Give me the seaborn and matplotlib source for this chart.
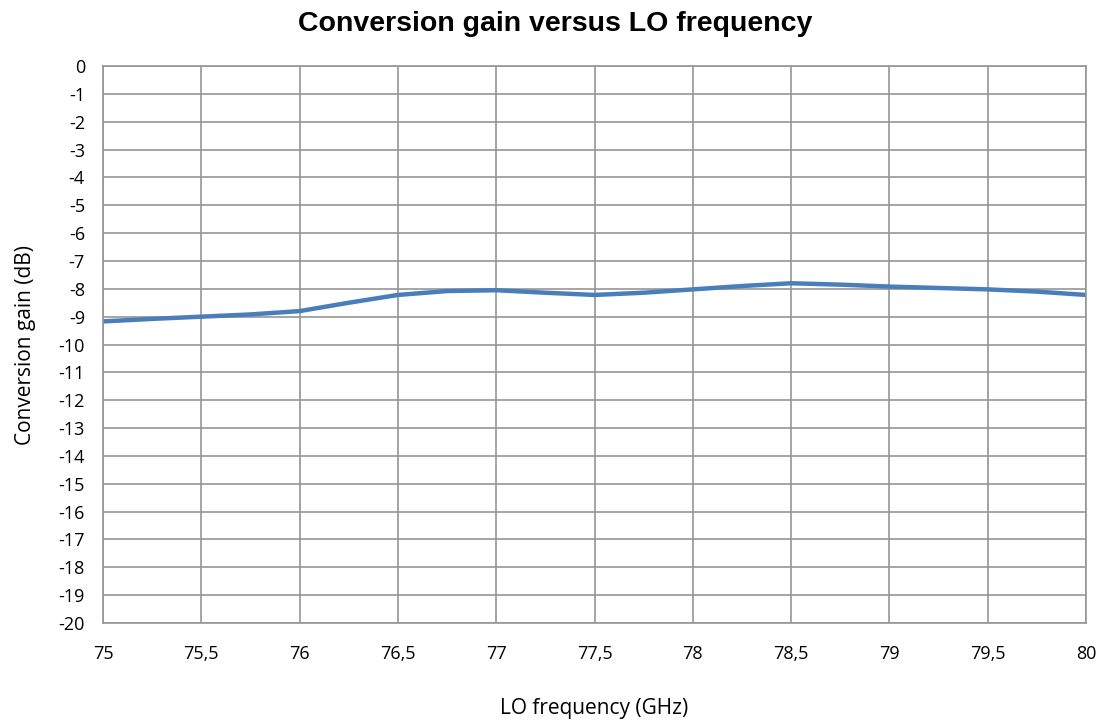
import numpy as np
import pandas as pd
import matplotlib
matplotlib.use("Agg")
import matplotlib.pyplot as plt
import seaborn as sns

# values
freq = [75, 75.25, 75.5, 75.75, 76, 76.25, 76.5, 76.75, 77, 77.25, 77.5, 77.75,
        78, 78.25, 78.5, 78.75, 79, 79.25, 79.5, 79.75, 80]
gain = [-9.17, -9.08, -9.0, -8.92, -8.8, -8.5, -8.22, -8.08, -8.05, -8.14, -8.22, -8.14,
        -8.02, -7.9, -7.8, -7.85, -7.92, -7.97, -8.02, -8.1, -8.22]
x_ticks = [75, 75.5, 76, 76.5, 77, 77.5, 78, 78.5, 79, 79.5, 80]
y_ticks = list(range(0, -21, -1))

df = pd.DataFrame({"freq": freq, "gain": gain})

sns.set_style("white")
plt.rcParams['font.family'] = ['Open Sans', 'DejaVu Sans']
plt.rcParams['text.color'] = 'black'
plt.rcParams['axes.labelcolor'] = 'black'

fig = plt.figure(figsize=(11.1, 7.2), dpi=100)
ax = fig.add_axes([0.0928, 0.1347, 0.8856, 0.7736])

sns.lineplot(data=df, x="freq", y="gain", ax=ax, color="#4a7ebb", linewidth=3.2)

ax.set_xlim(75, 80)
ax.set_ylim(-20, 0)
ax.set_xticks(x_ticks)
ax.set_xticklabels([str(t).replace(".", ",") for t in x_ticks])
ax.set_yticks(y_ticks)
ax.set_yticklabels([str(t) for t in y_ticks])
ax.grid(True, color="#969696", linewidth=1.2)
ax.set_axisbelow(True)
for s in ax.spines.values():
    s.set_color("#969696")
    s.set_linewidth(1.2)
ax.tick_params(axis="both", labelsize=13, length=0, colors="black")
ax.tick_params(axis="x", pad=16)
ax.tick_params(axis="y", pad=13)

ax.set_xlabel("LO frequency (GHz)", fontsize=15, labelpad=25)
ax.set_ylabel("Conversion gain (dB)", fontsize=15, labelpad=16)
fig.suptitle("Conversion gain versus LO frequency", fontsize=20.5, fontweight="bold",
             family="Liberation Sans", color="black", y=0.985)

fig.savefig("out.png", dpi=100)
